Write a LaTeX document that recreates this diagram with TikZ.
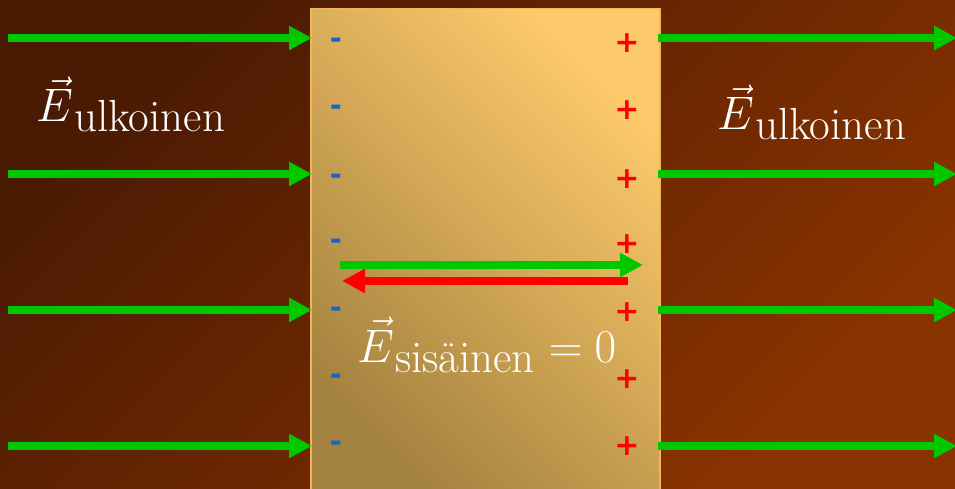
\documentclass[tikz,border=0pt]{standalone}
\usepackage{fix-cm}
\usepackage{amsmath}
\usepackage{fontspec}
\newfontfamily\chargefont{DejaVu Sans}
\usetikzlibrary{arrows.meta,positioning}

\definecolor{bgdark}{HTML}{4A1A03}
\definecolor{bglight}{HTML}{8A3300}
\definecolor{platelight}{HTML}{FDCA6B}
\definecolor{platedark}{HTML}{A4823F}
\definecolor{plateedge}{HTML}{F5B455}
\definecolor{fieldgreen}{HTML}{00C800}
\definecolor{minusblue}{HTML}{1466C8}

\newcommand{\fieldsub}[1]{\kern1pt\raisebox{-10pt}{\fontsize{45}{50}\selectfont #1}}

\begin{document}
\begin{tikzpicture}
   [x=1pt, y=-1pt,
    field/.style={draw=fieldgreen, line width=8pt, -{Triangle[length=23pt,width=23pt]}},
    back field/.style={draw=red, line width=8pt, -{Triangle[length=23pt,width=23pt]}},
    plate/.style={draw=plateedge, line width=1.5pt, top color=platelight, bottom color=platedark,
                  shading angle=-45, minimum width=349pt, minimum height=490pt, inner sep=0pt},
    minus charge/.style={text=minusblue, font=\chargefont\bfseries\fontsize{29}{29}\selectfont, inner sep=0pt},
    plus charge/.style={text=red, font=\chargefont\bfseries\fontsize{30}{30}\selectfont, inner sep=0pt},
    field label/.style={text=white, font=\fontsize{47}{52}\selectfont, anchor=base west, inner sep=0pt}]
   \useasboundingbox (0,0) rectangle (955,489);
   \clip (0,0) rectangle (955,489);
   \shade[top color=bgdark, bottom color=bglight, shading angle=45] (0,0) rectangle (955,489);

   % conductor plate
   \node[plate, anchor=north west] (plate) at (310,8) {};

   % external field lines
   \foreach \y [count=\i] in {38,174,310,446} {
      \coordinate (inL\i) at (8,\y);
      \coordinate (outL\i) at (312,\y);
      \coordinate (inR\i) at (658,\y);
      \coordinate (outR\i) at (957,\y);
      \draw[field] (inL\i) -- (outL\i);
      \draw[field] (inR\i) -- (outR\i);
   }

   % induced charges
   \foreach \y [count=\i] in {43,110,179,244,312,379,446} {
      \node[minus charge] (minus\i) at (336,\y) {-};
      \node[plus charge] (plus\i) at (627,\y) {+};
   }

   % field inside the plate
   \coordinate (gstart) at (340,265);
   \coordinate (gend) at (643,265);
   \coordinate (rstart) at (628,281);
   \coordinate (rend) at (342,281);
   \draw[field] (gstart) -- (gend);
   \draw[back field] (rstart) -- (rend);

   % labels
   \node[field label] (Eleft) at (36,122) {$\vec{E}$\fieldsub{ulkoinen}};
   \node[field label] (Eright) at (717,130) {$\vec{E}$\fieldsub{ulkoinen}};
   \node[field label] (Einner) at (357,362) {$\vec{E}$\fieldsub{sisäinen}\kern14pt$=$\kern12pt$0$};
\end{tikzpicture}
\end{document}
